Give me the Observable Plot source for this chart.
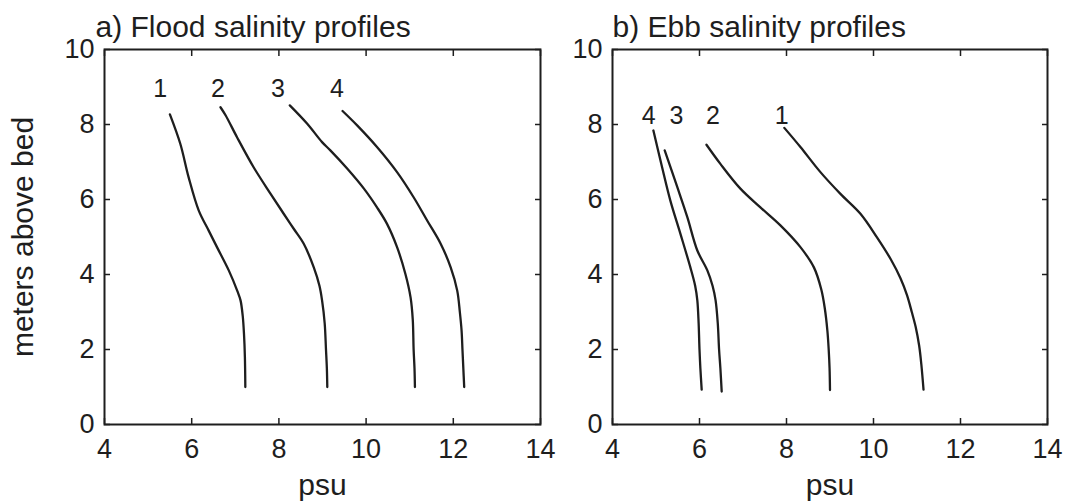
<!DOCTYPE html>
<html>
<head>
<meta charset="utf-8">
<script src="https://cdn.jsdelivr.net/npm/d3@7"></script>
<script src="https://cdn.jsdelivr.net/npm/@observablehq/plot@0.6"></script>
<style>
  html, body { margin: 0; padding: 0; background: #fff; }
  #chart { position: relative; width: 1065px; height: 502px; overflow: hidden; }
  #chart svg { position: absolute; top: 0; background: transparent; }
</style>
</head>
<body>
<div id="chart"></div>
<script>
// ---- Data (psu, meters above bed) ----
const xTicks = [4, 6, 8, 10, 12, 14];
const yTicks = [0, 2, 4, 6, 8, 10];

const flood1 = [[5.50,8.27],[5.74,7.48],[5.93,6.59],[6.16,5.71],[6.39,5.17],[6.58,4.73],[6.85,4.11],[7.05,3.55],[7.12,3.31],[7.17,2.9],[7.20,2.4],[7.22,1.8],[7.23,1.0]];
const flood2 = [[6.66,8.46],[6.78,8.24],[7.04,7.66],[7.42,6.86],[7.81,6.15],[8.11,5.62],[8.34,5.22],[8.57,4.82],[8.80,4.19],[8.93,3.7],[8.99,3.31],[9.05,2.7],[9.08,2.0],[9.10,1.5],[9.11,1.0]];
const flood3 = [[8.25,8.51],[8.65,8.02],[8.99,7.53],[9.18,7.31],[9.57,6.82],[9.95,6.29],[10.25,5.79],[10.48,5.35],[10.71,4.73],[10.90,4.02],[11.02,3.39],[11.07,2.8],[11.09,2.0],[11.11,1.5],[11.12,1.0]];
const flood4 = [[9.46,8.36],[9.80,7.97],[10.25,7.40],[10.71,6.73],[11.09,6.06],[11.40,5.44],[11.71,4.82],[11.94,4.19],[12.09,3.57],[12.15,3.0],[12.19,2.5],[12.21,2.0],[12.23,1.5],[12.25,1.0]];

const ebb1 = [[7.95,7.91],[8.32,7.40],[8.78,6.73],[9.24,6.15],[9.70,5.62],[10.08,4.99],[10.40,4.40],[10.62,3.90],[10.77,3.45],[10.88,3.0],[10.97,2.6],[11.05,2.1],[11.10,1.6],[11.15,0.93]];
const ebb2 = [[6.16,7.46],[6.48,6.95],[6.94,6.29],[7.40,5.79],[7.86,5.31],[8.32,4.73],[8.63,4.19],[8.80,3.6],[8.88,3.1],[8.94,2.5],[8.97,2.0],[8.99,1.5],[9.00,0.92]];
const ebb3 = [[5.20,7.31],[5.49,6.33],[5.72,5.53],[5.95,4.64],[6.18,4.11],[6.30,3.7],[6.37,3.31],[6.42,2.7],[6.45,2.0],[6.48,1.5],[6.51,0.88]];
const ebb4 = [[4.94,7.84],[5.14,6.86],[5.33,5.97],[5.56,5.09],[5.79,4.19],[5.90,3.7],[5.95,3.31],[5.98,2.7],[6.00,2.0],[6.02,1.5],[6.05,0.93]];

const floodLabels = ["1", "2", "3", "4"];
const floodLabelX = [5.28, 6.60, 7.98, 9.33];
const floodLabelY = [8.96, 8.96, 8.96, 8.96];
const ebbLabels = ["4", "3", "2", "1"];
const ebbLabelX = [4.83, 5.47, 6.31, 7.89];
const ebbLabelY = [8.24, 8.24, 8.24, 8.24];

const FONT = "'Liberation Sans', Arial, Helvetica, sans-serif";
const INK = "#1e1e1e";

function toRows(profiles) {
  return profiles.flatMap((pts, i) => pts.map(([s, z]) => ({id: i, s, z})));
}

function panel({profiles, labels, labelX, labelY, title, titleDx, yLabel, width, marginLeft, marginRight}) {
  const rows = toRows(profiles);
  const labelRows = labels.map((t, i) => ({t, x: labelX[i], y: labelY[i]}));
  return Plot.plot({
    width, height: 502,
    marginLeft, marginRight, marginTop: 49, marginBottom: 78,
    x: {domain: [4, 14]},
    y: {domain: [0, 10]},
    style: {fontFamily: FONT, color: INK, background: "transparent", overflow: "visible"},
    marks: [
      Plot.axisX(xTicks, {anchor: "bottom", tickSize: -6, tickPadding: 20, fontSize: 27, label: null, strokeWidth: 1.5}),
      Plot.axisX(xTicks, {anchor: "top", tickSize: -6, tickFormat: () => "", label: null, strokeWidth: 1.5}),
      Plot.axisY(yTicks, {anchor: "left", tickSize: -6, tickPadding: 16, fontSize: 27, label: null, strokeWidth: 1.5}),
      Plot.axisY(yTicks, {anchor: "right", tickSize: -6, tickFormat: () => "", label: null, strokeWidth: 1.5}),
      Plot.frame({stroke: INK, strokeWidth: 2}),
      Plot.line(rows, {x: "s", y: "z", z: "id", stroke: INK, strokeWidth: 2.3, curve: "catmull-rom"}),
      Plot.text(labelRows, {x: "x", y: "y", text: "t", fontSize: 25, fill: INK, lineAnchor: "middle"}),
      Plot.text([title], {frameAnchor: "top-left", textAnchor: "start", lineAnchor: "bottom", dx: titleDx, dy: -13, fontSize: 30, fill: INK}),
      Plot.text(["psu"], {frameAnchor: "bottom", lineAnchor: "bottom", dy: 70, fontSize: 30, fill: INK}),
      yLabel ? Plot.text([yLabel], {frameAnchor: "left", textAnchor: "middle", rotate: -90, lineAnchor: "bottom", dx: -72, fontSize: 30, fill: INK}) : null
    ]
  });
}

const left = panel({
  profiles: [flood1, flood2, flood3, flood4],
  labels: floodLabels, labelX: floodLabelX, labelY: floodLabelY,
  title: "a) Flood salinity profiles", titleDx: -9,
  yLabel: "meters above bed",
  width: 560, marginLeft: 104, marginRight: 20
});
left.style.left = "0px";

const right = panel({
  profiles: [ebb1, ebb2, ebb3, ebb4],
  labels: ebbLabels, labelX: ebbLabelX, labelY: ebbLabelY,
  title: "b) Ebb salinity profiles", titleDx: 0,
  yLabel: null,
  width: 533, marginLeft: 80, marginRight: 18
});
right.style.left = "532px";

const chart = document.getElementById("chart");
chart.appendChild(left);
chart.appendChild(right);
</script>
</body>
</html>
